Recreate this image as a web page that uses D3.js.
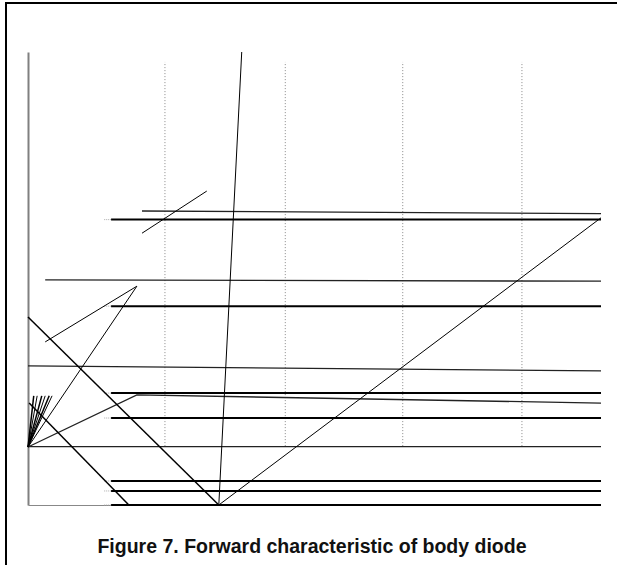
<!DOCTYPE html>
<html><head><meta charset="utf-8">
<script src="https://cdn.jsdelivr.net/npm/d3@7"></script>
<style>body{margin:0;background:#fff}svg{display:block}</style>
</head><body>
<svg id="c" width="617" height="565"></svg>
<script>
// Data in percent of plot width (x) and plot height (y)
const gridX = [23.9, 44.9, 65.4, 86.2];
const gridSpan = [13.0, 97.8];
const thickLevels = [63.0, 43.9, 24.7, 19.2, 5.3, 3.1, 0];
const thickStart = 14.5;
const thinLines = [
  [[19.9, 64.9], [100, 64.3]],
  [[3.0, 49.7], [100, 49.4]],
  [[0, 30.7], [100, 29.6]],
  [[0, 12.9], [100, 12.9]],
  [[0, 12.8], [19.0, 24.3], [100, 22.5]]
];
const diagonals = [
  [[37.3, 100], [33.3, 0]],
  [[33.3, 0], [100, 63.4]],
  [[0, 41.5], [33.3, 0]],
  [[0.2, 22.5], [17.6, 0]],
  [[19.9, 60.0], [31.2, 69.3]],
  [[3.0, 36.0], [19.0, 48.3], [0, 12.8]]
];
const fanOrigin = [0, 12.8];
const fanTipsX = [1.0, 1.6, 2.4, 3.0, 3.7, 4.2];
const fanTipY = 24.1;
const title = "Figure 7. Forward characteristic of body diode";

const svg = d3.select("#c");
const x = d3.scaleLinear().domain([0, 100]).range([28, 601]);
const y = d3.scaleLinear().domain([0, 100]).range([505, 52]);
const line = d3.line().x(d => x(d[0])).y(d => y(d[1]));

// frame
svg.append("rect").attr("x", 6).attr("y", 3).attr("width", 700).attr("height", 700)
  .attr("fill", "none").attr("stroke", "#000").attr("stroke-width", 2);

// grid
svg.append("g").selectAll("line").data(gridX).join("line")
  .attr("x1", d => x(d)).attr("x2", d => x(d))
  .attr("y1", y(gridSpan[0])).attr("y2", y(gridSpan[1]))
  .attr("stroke", "#888").attr("stroke-width", 1).attr("stroke-dasharray", "1,2");

// axes
const gl = svg.append("g").attr("transform", `translate(${x(0)},0)`)
  .call(d3.axisLeft(y).tickValues([]).tickSizeOuter(0));
gl.select(".domain").attr("stroke", "#808080").attr("stroke-width", 2);
const gb = svg.append("g").attr("transform", `translate(0,${y(0)})`)
  .call(d3.axisBottom(d3.scaleLinear().domain([0, thickStart]).range([x(0), x(thickStart)])).tickValues([]).tickSizeOuter(0));
gb.select(".domain").attr("stroke", "#888").attr("stroke-width", 1);

// dotted stubs
svg.append("g").selectAll("line").data(thickLevels).join("line")
  .attr("x1", x(thickStart - 1.2)).attr("x2", x(thickStart))
  .attr("y1", d => y(d)).attr("y2", d => y(d))
  .attr("stroke", "#aaa").attr("stroke-dasharray", "1,1");

// thin lines
svg.append("g").selectAll("path").data(thinLines).join("path")
  .attr("d", line).attr("fill", "none").attr("stroke", "#222").attr("stroke-width", 1.3);

// diagonals
svg.append("g").selectAll("path").data(diagonals).join("path")
  .attr("d", line).attr("fill", "none").attr("stroke", "#000").attr("stroke-width", (d, i) => (i === 2 || i === 3) ? 1.5 : 1);

// fan
svg.append("g").selectAll("line").data(fanTipsX).join("line")
  .attr("x1", x(fanOrigin[0])).attr("y1", y(fanOrigin[1]))
  .attr("x2", d => x(d)).attr("y2", y(fanTipY))
  .attr("stroke", "#000").attr("stroke-width", (d, i) => i % 2 ? 1 : 1.5);

// thick lines
svg.append("g").selectAll("line").data(thickLevels).join("line")
  .attr("x1", x(thickStart)).attr("x2", x(100))
  .attr("y1", d => y(d)).attr("y2", d => y(d))
  .attr("stroke", "#000").attr("stroke-width", 2);

// title
svg.append("text").attr("x", 312).attr("y", 553).attr("text-anchor", "middle")
  .attr("font-family", "Liberation Sans, Arial, sans-serif").attr("font-weight", "bold")
  .attr("font-size", 19.5).attr("fill", "#111").text(title);
</script>
</body></html>
